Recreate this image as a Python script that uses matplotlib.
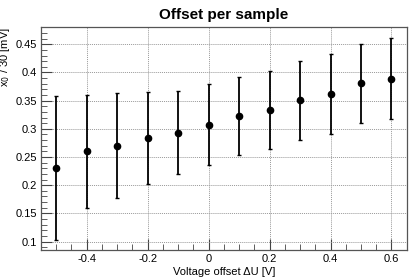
import matplotlib
matplotlib.use("Agg")
import matplotlib.pyplot as plt
from matplotlib.ticker import MultipleLocator
import numpy as np

# data
voltage = [-0.5, -0.4, -0.3, -0.2, -0.1, 0.0, 0.1, 0.2, 0.3, 0.4, 0.5, 0.6]
offset = [0.230, 0.260, 0.270, 0.283, 0.293, 0.307, 0.323, 0.333, 0.351, 0.362, 0.381, 0.389]
err_low = [0.128, 0.100, 0.093, 0.081, 0.074, 0.071, 0.070, 0.069, 0.070, 0.071, 0.071, 0.072]
err_high = [0.128, 0.100, 0.093, 0.082, 0.074, 0.073, 0.069, 0.070, 0.070, 0.070, 0.070, 0.072]

plt.rcParams.update({
    "font.family": ["Liberation Sans", "DejaVu Sans"],
    "font.size": 8,
})

fig = plt.figure(figsize=(4.11, 2.79), dpi=100)
ax = fig.add_axes([0.0998, 0.104, 0.8897, 0.798])

ax.errorbar(voltage, offset, yerr=[err_low, err_high], fmt="o", color="black",
            markersize=4.5, elinewidth=1.3, capsize=1.2, capthick=1.0, zorder=3)

ax.set_xlim(-0.55, 0.65)
ax.set_ylim(0.085, 0.48)
ax.xaxis.set_major_locator(MultipleLocator(0.2))
ax.xaxis.set_minor_locator(MultipleLocator(0.05))
ax.yaxis.set_major_locator(MultipleLocator(0.05))
ax.yaxis.set_minor_locator(MultipleLocator(0.01))
ax.xaxis.set_major_formatter(plt.FuncFormatter(lambda v, p: f"{v:g}" if abs(v) > 1e-9 else "0"))
ax.yaxis.set_major_formatter(plt.FuncFormatter(lambda v, p: f"{v:g}"))

ax.tick_params(which="both", direction="in", top=False, right=False, labelsize=8,
               color="#444444", labelcolor="black")
ax.tick_params(which="major", length=8, width=0.8, pad=3)
ax.tick_params(which="minor", length=4, width=0.6)

ax.grid(which="major", linestyle=(0, (1, 1)), color="#999999", linewidth=0.7)
for s in ax.spines.values():
    s.set_color("#555555")
    s.set_linewidth(0.9)

ax.set_title("Offset per sample", fontsize=11, fontweight="bold", pad=6)
ax.set_xlabel("Voltage offset \u0394U [V]", fontsize=8, labelpad=2)
ax.set_ylabel("x$_0$ / 30 [mV]", fontsize=8, loc="top")
ax.yaxis.set_label_coords(-0.078, 1.0)

fig.savefig("out.png", dpi=100)
